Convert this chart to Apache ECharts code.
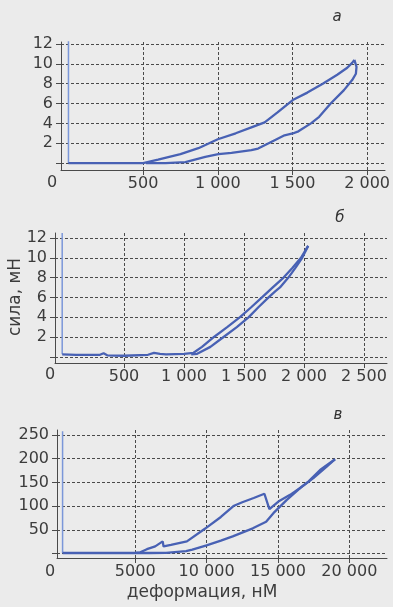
<!DOCTYPE html>
<html>
<head>
<meta charset="utf-8">
<script src="https://cdn.jsdelivr.net/npm/echarts@6/dist/echarts.min.js"></script>
<style>
  html, body { margin: 0; padding: 0; background: #ebebeb; }
  #chart { width: 393px; height: 607px; }
</style>
</head>
<body>
<div id="chart"></div>
<script>
// панель а
const aLoadX = [0, 500, 600, 750, 870, 1000, 1120, 1225, 1314, 1400, 1502, 1600, 1703, 1800, 1867, 1900, 1915]
const aLoadY = [0, 0, 0.35, 0.9, 1.5, 2.4, 3.0, 3.6, 4.1, 5.1, 6.35, 7.1, 8.0, 8.9, 9.6, 10.1, 10.4]
const aUnloadX = [1915, 1929, 1925, 1900, 1845, 1756, 1679, 1624, 1540, 1502, 1447, 1381, 1270, 1225, 1092, 1004, 916, 783, 650, 520]
const aUnloadY = [10.4, 9.7, 9.0, 8.36, 7.35, 6.0, 4.66, 4.0, 3.2, 2.98, 2.8, 2.3, 1.46, 1.3, 1.02, 0.89, 0.62, 0.1, 0, 0]
const aStartX = [0, 0]
const aStartY = [12.3, 0]

// панель б
const bLoadX = [-15, 100, 300, 330, 360, 500, 700, 750, 800, 850, 1000, 1080, 1150, 1250, 1360, 1467, 1560, 1650, 1740, 1830, 1905, 1975, 2035]
const bLoadY = [0.25, 0.2, 0.2, 0.35, 0.15, 0.1, 0.2, 0.4, 0.3, 0.25, 0.3, 0.4, 1.0, 2.0, 3.0, 4.0, 5.0, 6.0, 7.0, 8.0, 9.0, 10.0, 11.2]
const bUnloadX = [2035, 1985, 1930, 1870, 1800, 1760, 1705, 1620, 1540, 1440, 1330, 1220, 1110, 1060]
const bUnloadY = [11.2, 10.0, 9.0, 8.0, 7.0, 6.6, 6.0, 5.0, 4.0, 3.0, 2.0, 1.0, 0.3, 0.25]
const bStartX = [-15, -15]
const bStartY = [12.5, 0.25]

// панель в
const cLoadX = [-90, 5000, 5350, 5817, 6400, 6925, 6985, 7500, 8620, 9780, 10020, 11000, 11880, 12500, 13300, 14050, 14400, 15030, 15850, 16500, 17130, 17950, 19000]
const cLoadY = [1, 1, 2.5, 9, 15, 25.4, 14.8, 18, 25.4, 50, 55, 77, 100, 108, 117, 126, 93.5, 109.6, 123.7, 137, 151.7, 176, 198.8]
const cUnloadX = [19000, 18415, 17480, 16550, 15620, 14680, 14170, 13240, 11830, 11000, 10000, 9000, 8560, 7160, 6000, 5000]
const cUnloadY = [198.8, 183, 159, 138, 113, 85, 67, 53, 36, 27, 17, 8, 5, 1.4, 1, 1]
const cStartX = [-90, -90]
const cStartY = [258, 1]

// деления осей
const aXTicks = [500, 1000, 1500, 2000]
const aXLabels = ['500', '1 000', '1 500', '2 000']
const aYTicks = [0, 2, 4, 6, 8, 10, 12]
const bXTicks = [500, 1000, 1500, 2000, 2500]
const bXLabels = ['500', '1 000', '1 500', '2 000', '2 500']
const bYTicks = [0, 2, 4, 6, 8, 10, 12]
const cXTicks = [5000, 10000, 15000, 20000]
const cXLabels = ['5000', '10 000', '15 000', '20 000']
const cYTicks = [0, 50, 100, 150, 200, 250]

const lineColor = '#4861b4'
const startColor = '#7b97d9'
const axisColor = '#4a4a4a'
const textColor = '#3c3c3c'
const font = 'DejaVu Sans'

function pairs(xs, ys) {
  return xs.map((x, i) => [x, ys[i]])
}

function makeX(idx, min, max, ticks, labels) {
  return {
    type: 'value', gridIndex: idx, min: min, max: max,
    axisLine: { show: true, onZero: false, lineStyle: { color: axisColor, width: 1 } },
    axisTick: { show: true, length: 5, customValues: ticks, lineStyle: { color: axisColor } },
    axisLabel: {
      customValues: ticks, margin: 6, color: textColor, fontFamily: font, fontSize: 16,
      formatter: (v) => labels[ticks.indexOf(v)] || '',
    },
    splitLine: { show: true, lineStyle: { color: axisColor, type: [3, 2], width: 1 } },
  }
}

function makeY(idx, min, max, ticks) {
  return {
    type: 'value', gridIndex: idx, min: min, max: max,
    axisLine: { show: true, onZero: false, lineStyle: { color: axisColor, width: 1 } },
    axisTick: { show: true, length: 5, customValues: ticks, lineStyle: { color: axisColor } },
    axisLabel: {
      customValues: ticks.filter((t) => t !== 0), margin: 8, color: textColor, fontFamily: font, fontSize: 16,
    },
    splitLine: { show: true, lineStyle: { color: axisColor, type: [3, 2], width: 1 } },
  }
}

function curve(idx, xs, ys, color, width) {
  return {
    type: 'line', xAxisIndex: idx, yAxisIndex: idx, data: pairs(xs, ys),
    showSymbol: false, symbol: 'none', smooth: false, silent: true,
    lineStyle: { color: color, width: width }, z: 3,
  }
}

function label(text, x, y, opts) {
  return Object.assign({
    type: 'text', x: x, y: y,
    style: { text: text, fill: textColor, font: '16px "DejaVu Sans"', align: 'center', verticalAlign: 'middle' },
  }, opts || {})
}

let chart = echarts.init(document.getElementById('chart'), null, { renderer: 'canvas' })
let option = {
  backgroundColor: '#ebebeb',
  animation: false,
  grid: [
    { left: 61, top: 42, width: 327, height: 128 },
    { left: 55, top: 233, width: 332, height: 130 },
    { left: 57, top: 430, width: 330, height: 128 },
  ],
  xAxis: [
    makeX(0, -50, 2120, aXTicks, aXLabels),
    makeX(1, -75, 2692, bXTicks, bXLabels),
    makeX(2, -481, 22640, cXTicks, cXLabels),
  ],
  yAxis: [
    makeY(0, -0.7, 12.2, aYTicks),
    makeY(1, -0.63, 12.5, bYTicks),
    makeY(2, -9.6, 260.5, cYTicks),
  ],
  series: [
    curve(0, aStartX, aStartY, startColor, 1.5),
    curve(0, aLoadX, aLoadY, lineColor, 2.3),
    curve(0, aUnloadX, aUnloadY, lineColor, 2.3),
    curve(1, bStartX, bStartY, startColor, 1.5),
    curve(1, bLoadX, bLoadY, lineColor, 2.3),
    curve(1, bUnloadX, bUnloadY, lineColor, 2.3),
    curve(2, cStartX, cStartY, startColor, 1.5),
    curve(2, cLoadX, cLoadY, lineColor, 2.3),
    curve(2, cUnloadX, cUnloadY, lineColor, 2.3),
  ],
  graphic: [
    label('а', 337, 17, { style: { text: 'а', fill: '#333', font: 'italic 15px "DejaVu Sans"', align: 'center', verticalAlign: 'middle' } }),
    label('б', 340, 218, { style: { text: 'б', fill: '#333', font: 'italic 15px "DejaVu Sans"', align: 'center', verticalAlign: 'middle' } }),
    label('в', 338, 415, { style: { text: 'в', fill: '#333', font: 'italic 15px "DejaVu Sans"', align: 'center', verticalAlign: 'middle' } }),
    label('0', 52, 183),
    label('0', 50, 375),
    label('0', 50, 572),
    label('сила, мН', 16, 297, { rotation: Math.PI / 2, style: { text: 'сила, мН', fill: textColor, font: '17px "DejaVu Sans"', align: 'center', verticalAlign: 'middle' } }),
    label('деформация, нМ', 202, 593, { style: { text: 'деформация, нМ', fill: textColor, font: '17px "DejaVu Sans"', align: 'center', verticalAlign: 'middle' } }),
  ],
}
chart.setOption(option)
</script>
</body>
</html>
